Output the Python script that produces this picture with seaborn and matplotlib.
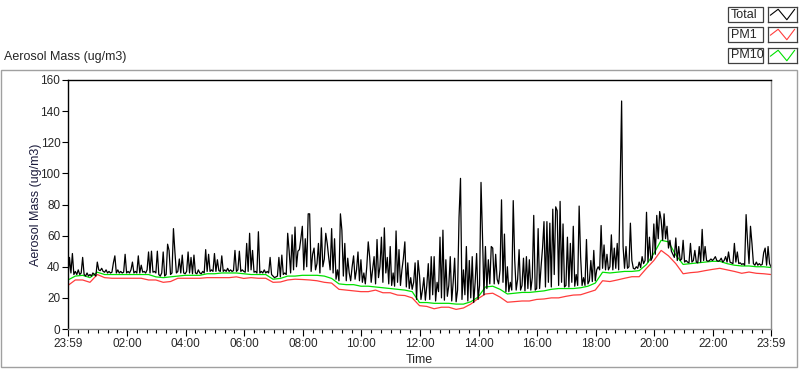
import matplotlib
matplotlib.use("Agg")
import numpy as np
import pandas as pd
import matplotlib.pyplot as plt
import seaborn as sns
from matplotlib.patches import Rectangle

# Total mass, one row per hour (3 minute readings), starting at 23:59
total_by_hour = [
    [33, 46, 36, 48.5, 35, 37, 35, 38, 35, 36, 46, 35, 34, 36, 34, 35, 34, 36, 35, 34],
    [43, 38, 37.5, 39, 37, 36.5, 38, 36, 37, 36, 36.5, 42.5, 47, 36, 38, 36, 37, 36, 36.5, 48],
    [36, 37, 36, 38, 43, 36, 37, 36, 47, 36, 41, 36.5, 37, 36, 38, 49.5, 36, 50, 36.5, 37],
    [36, 50, 35, 34, 36, 49.5, 34, 35, 54.5, 50.5, 35, 36, 64.5, 49.5, 36, 37, 45, 36, 47.5, 36],
    [35.5, 37, 49.5, 36, 46, 35.5, 47.5, 36, 35.5, 38, 36, 35.5, 37, 36, 51, 37, 48, 37, 38, 37],
    [48.5, 37, 44.5, 37.5, 37, 47, 37, 38, 37, 39, 37, 38, 37, 37.5, 50.5, 37, 38, 50, 37, 38],
    [37, 36.5, 55, 37, 61.5, 38, 50.5, 36.5, 37, 36, 62.5, 36, 37, 36, 38, 36, 37, 36, 46, 35],
    [34, 33, 33.5, 34, 46, 33.5, 47.5, 35, 36, 35, 61.5, 50, 36, 60.5, 38, 65.5, 40, 50, 51, 58],
    [66, 38, 58, 40, 74, 74, 37, 48, 52, 38, 42, 55, 36, 65, 40, 45, 61.5, 55, 46, 38],
    [64.5, 36, 58, 32, 38, 31, 74, 63.5, 34, 55, 31, 45.5, 36, 31, 40, 47, 32, 38, 49.5, 31],
    [44.5, 30, 36, 29, 40, 56, 46, 30, 38, 46.5, 29, 57.5, 33, 40, 59, 30, 65, 36, 46, 29],
    [53, 28, 36, 27.5, 63, 30, 51, 28, 38, 45.5, 56, 27, 42.5, 26, 33, 25.5, 30, 42.5, 19, 44],
    [34.5, 19, 25, 33, 18.5, 28, 42, 19, 46.5, 22, 46.5, 18, 30, 24, 59, 20, 63.5, 18.5, 44.5, 21],
    [28, 46.5, 18, 30, 45.5, 17.5, 25, 72, 96.8, 19, 38, 22, 53, 18, 44, 20, 46.5, 17, 30, 48.5],
    [19, 28, 94.2, 60, 22, 53, 26, 44.5, 29, 53, 52, 29, 48, 32, 29, 38, 83, 30, 61, 24],
    [40, 24, 30, 25, 82.5, 44.5, 25, 32, 51, 25, 28, 45.5, 24.5, 46.5, 26, 44.5, 25, 33, 73, 25],
    [26, 64.5, 26, 40, 52, 69, 27, 69, 30, 68, 27, 77, 35, 78.5, 76, 28, 82, 30, 67.5, 27],
    [28, 59, 27, 55, 30, 66, 27.5, 35, 28, 79, 46.5, 28, 33, 28, 57.5, 29, 31, 44, 30.5, 50.5],
    [31, 38, 40, 38, 66.5, 39, 54, 38, 48, 38, 40, 60.5, 38, 52, 39, 55, 38, 94, 146.5, 53],
    [39, 53, 39, 40, 68, 44, 39, 38.5, 40, 39, 43, 39.5, 46.5, 42, 44, 75, 43, 59, 44, 46],
    [67.5, 48, 73, 58, 75.5, 70, 57, 74, 58, 66, 52, 57, 50, 48, 46, 58.5, 44, 53, 44, 45],
    [57, 43, 44, 43, 42.5, 55, 43, 44, 50.5, 43, 42.5, 53, 43, 64, 44, 53, 44, 43.5, 44, 45],
    [44, 45, 46.5, 44, 43.5, 44, 45.5, 43, 44, 46.5, 43, 49.5, 43, 42.5, 42, 55, 43, 49.5, 42, 42.5],
    [41.5, 42, 41, 73.5, 56, 42, 66, 55, 42, 41, 43, 41, 42, 41, 41.5, 49, 52, 41, 53, 42],
]
total_last = 40

# PM1, one row per hour (15 minute readings)
pm1_by_hour = [
    [28, 31.5, 31.5, 30], [35, 33, 32.6, 32.6], [32.6, 32.6, 32.6, 31.5],
    [31.5, 30, 30.5, 32.6], [32.6, 32.6, 32.6, 33], [33, 33, 33, 33.5],
    [32.5, 33, 32.6, 32.6], [30, 30.2, 31.5, 32], [31.8, 31.5, 31, 30],
    [29.5, 25.5, 25, 24.5], [24, 24, 25, 23.3], [23.3, 21.8, 21.5, 20],
    [15, 14.5, 13, 14], [14, 12.6, 13.5, 16], [19.5, 22.5, 23, 20.5],
    [17.2, 17.6, 18, 18], [19, 19.3, 20, 20], [21, 21.8, 22, 23.5],
    [25, 31, 30.5, 31.5], [32.6, 33.6, 33.6, 39], [44, 50.5, 47, 42],
    [35.5, 36.2, 36.6, 37.5], [38.3, 39, 38, 37], [35.8, 36.6, 35.8, 35.5],
]
pm1_last = 35

# PM10, one row per hour (15 minute readings)
pm10_by_hour = [
    [31.5, 34, 34.5, 33], [36.5, 35, 35, 35], [35, 35, 35, 35],
    [33.5, 33, 33.5, 34], [34.5, 34.5, 34.5, 35.5], [35.5, 36, 36, 36],
    [35.5, 35, 35, 35], [32, 32.5, 34, 34], [34.5, 34.5, 34.5, 34],
    [32.5, 29, 28.5, 28.5], [27.5, 27.5, 27, 26.5], [26, 25.5, 25, 24],
    [17, 17, 16.5, 16.5], [16.5, 16, 16, 17.5], [20.5, 27, 27.5, 25.5],
    [22.5, 23, 23.5, 23.5], [24, 24.5, 25.5, 26], [26, 26, 26.5, 27.5],
    [29.5, 36.5, 36, 36.5], [37, 37, 37.5, 41.5], [48.5, 57, 56, 47.5],
    [41.5, 42, 42.5, 43], [43.5, 43.5, 42, 41], [40.5, 40.5, 40, 40],
]
pm10_last = 39.5

x_tick_labels = ["23:59", "02:00", "04:00", "06:00", "08:00", "10:00", "12:00",
                 "14:00", "16:00", "18:00", "20:00", "22:00", "23:59"]
y_ticks = [0, 20, 40, 60, 80, 100, 120, 140, 160]
series_names = ["Total", "PM1", "PM10"]
series_colors = ["#000000", "#ff3c3c", "#00e000"]

total = [v for row in total_by_hour for v in row] + [total_last]
pm1 = [v for row in pm1_by_hour for v in row] + [pm1_last]
pm10 = [v for row in pm10_by_hour for v in row] + [pm10_last]

# hours elapsed since 23:59
df_total = pd.DataFrame({"hours": np.arange(len(total)) / 20, "mass": total})
df_pm1 = pd.DataFrame({"hours": np.arange(len(pm1)) / 4, "mass": pm1})
df_pm10 = pd.DataFrame({"hours": np.arange(len(pm10)) / 4, "mass": pm10})

sns.set_style("white")
plt.rcParams["font.family"] = ["Liberation Sans", "DejaVu Sans"]

W, H = 800, 369
fig = plt.figure(figsize=(W / 100, H / 100), dpi=100)
ax = fig.add_axes([68 / W, 1 - 329 / H, 703 / W, 249 / H])

sns.lineplot(data=df_pm1, x="hours", y="mass", color=series_colors[1],
             lw=0.9, estimator=None, ax=ax)
sns.lineplot(data=df_pm10, x="hours", y="mass", color=series_colors[2],
             lw=0.9, estimator=None, ax=ax)
sns.lineplot(data=df_total, x="hours", y="mass", color=series_colors[0],
             lw=0.9, estimator=None, ax=ax)

ax.set_xlim(0, 24)
ax.set_ylim(0, 160)
major = [0] + [2 * k + 1 / 60 for k in range(1, 12)] + [24]
minor = [m - j / 3 for m in major[1:-1] for j in range(1, 6)] + \
        [major[-2] + j / 3 for j in range(1, 6)]
ax.set_xticks(major)
ax.set_xticklabels(x_tick_labels)
ax.set_xticks(minor, minor=True)
ax.set_yticks(y_ticks)

ax.tick_params(axis="both", which="major", direction="out", labelsize=8.5,
               color="black", width=0.8, pad=1.5)
ax.tick_params(axis="y", length=4)
ax.tick_params(axis="x", which="major", length=5)
ax.tick_params(axis="x", which="minor", length=3, width=0.8, color="black")
ax.xaxis.set_ticks_position("bottom")
ax.yaxis.set_ticks_position("left")

for side, col in [("left", "black"), ("top", "black"),
                  ("right", "#8a8a8a"), ("bottom", "#8a8a8a")]:
    ax.spines[side].set_visible(True)
    ax.spines[side].set_color(col)
    ax.spines[side].set_linewidth(1)

ax.set_xlabel("Time", fontsize=9)
ax.set_ylabel("Aerosol Mass (ug/m3)", fontsize=9, color="#1c1c3c")
ax.xaxis.set_label_coords(0.5, (329 - 354) / 249)
ax.yaxis.set_label_coords((42 - 68) / 703, 0.5)

# outer panel frame and title
fig.patches.append(Rectangle((1 / W, 1 - 367 / H), 796 / W, 297 / H,
                             transform=fig.transFigure, fill=False,
                             ec="#a0a0a0", lw=1))
fig.text(4 / W, 1 - 57 / H, "Aerosol Mass (ug/m3)", fontsize=9,
         va="center", ha="left")

# legend boxes in the top right corner
row_tops = [7, 27, 48]
for name, col, top in zip(series_names, series_colors, row_tops):
    fig.patches.append(Rectangle((728 / W, 1 - (top + 15) / H), 35 / W, 15 / H,
                                 transform=fig.transFigure, fc="white",
                                 ec="#404040", lw=0.9))
    fig.text(731 / W, 1 - (top + 7.5) / H, name, fontsize=9,
             va="center", ha="left")
    sample = fig.add_axes([768 / W, 1 - (top + 15) / H, 29 / W, 15 / H])
    sample.plot([0.08, 0.35, 0.65, 0.92], [0.45, 0.85, 0.15, 0.85],
                color=col, lw=0.8)
    sample.set_xlim(0, 1)
    sample.set_ylim(0, 1)
    sample.set_xticks([])
    sample.set_yticks([])
    for s in sample.spines.values():
        s.set_color("#404040")
        s.set_linewidth(0.9)

fig.savefig("out.png", dpi=100)
